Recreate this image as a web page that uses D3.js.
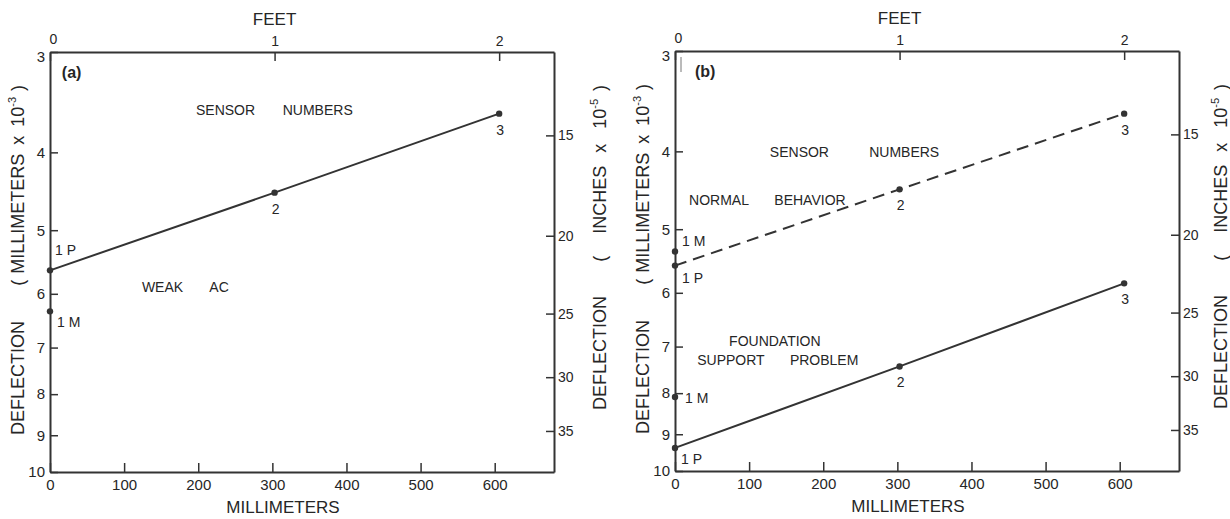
<!DOCTYPE html>
<html><head><meta charset="utf-8">
<script src="https://cdn.jsdelivr.net/npm/d3@7"></script>
<style>
body{margin:0;background:#fff}
svg text{font-family:"Liberation Sans",Arial,sans-serif;fill:#262626}
</style></head><body><svg id="c" width="1230" height="519"></svg>
<script>
// ---- data ----
const mmTicks = [0, 100, 200, 300, 400, 500, 600];
const feetTicks = [0, 1, 2];
const deflTicks = [3, 4, 5, 6, 7, 8, 9, 10];          // mm x 10^-3
const inchTicks = [15, 20, 25, 30, 35];                // in x 10^-5
const sensorMm = [0, 303, 606];                        // sensor 1, 2, 3 (mm)
const sensorNames = ["1 P", "2", "3"];
// panel (a) weak AC
const weakP = [5.61, 4.49, 3.58];
const weakM = 6.31;
// panel (b) normal behavior (dashed) and foundation support problem (solid)
const normalP = [5.55, 4.46, 3.59];
const normalM = 5.33;
const problemP = [9.36, 7.41, 5.84];
const problemM = 8.09;
// annotations (word, mm, deflection)
const notesA = [["SENSOR",197,3.59],["NUMBERS",314,3.59],["WEAK",124,5.97],["AC",215,5.97]];
const notesB = [["SENSOR",128,4.07],["NUMBERS",262,4.07],["NORMAL",19,4.66],["BEHAVIOR",134,4.66],
                ["FOUNDATION",73,6.98],["SUPPORT",30,7.37],["PROBLEM",155,7.37]];

const mmMax = 680, mmPerFoot = 303, W = 504, H = 420, ink = "#333";
const svg = d3.select("#c");

function drawPanel(p){
  const g = svg.append("g").attr("transform", `translate(${p.left},${p.top})`);
  const x = d3.scaleLinear().domain([0, mmMax]).range([0, W]);
  const xf = d3.scaleLinear().domain([0, mmMax / mmPerFoot]).range([0, W]);
  const y = d3.scaleLog().domain([3, 10]).range([0, H]);
  const yi = d3.scaleLog().domain([3 / 0.254, 10 / 0.254]).range([0, H]);

  const style = (sel, fs) => {
    sel.select(".domain").attr("stroke", ink).attr("stroke-width", 2);
    sel.selectAll(".tick line").attr("stroke", ink).attr("stroke-width", 1.5);
    sel.selectAll(".tick text").style("font-size", fs + "px").attr("fill", "#262626");
  };
  g.append("g").attr("transform", `translate(0,${H})`)
    .call(d3.axisBottom(x).tickValues(mmTicks).tickSize(-9).tickSizeOuter(0).tickPadding(7))
    .call(s => style(s, 15));
  g.append("g")
    .call(d3.axisTop(xf).tickValues(feetTicks).tickFormat(d3.format("d")).tickSize(-9).tickSizeOuter(0).tickPadding(6))
    .call(s => style(s, 14))
    .call(s => s.selectAll(".tick text").filter(d => d === 0).attr("dx", 3).attr("dy", -2));
  g.append("g")
    .call(d3.axisLeft(y).tickValues(deflTicks).tickFormat(d3.format("d")).tickSize(-8).tickSizeOuter(0).tickPadding(5))
    .call(s => style(s, 15))
    .call(s => s.selectAll(".tick text").filter(d => d === 3).attr("dy", "0.6em"));
  g.append("g").attr("transform", `translate(${W},0)`)
    .call(d3.axisRight(yi).tickValues(inchTicks).tickFormat(d3.format("d")).tickSize(-8).tickSizeOuter(0).tickPadding(4))
    .call(s => style(s, 14));

  // axis titles
  g.append("text").attr("x", xf(1)).attr("y", -27).attr("text-anchor", "middle")
    .style("font-size", "17px").text("FEET");
  g.append("text").attr("x", 233).attr("y", H + 41).attr("text-anchor", "middle")
    .style("font-size", "17px").text("MILLIMETERS");
  const lt = g.append("g").attr("transform", "translate(-26,0) rotate(-90)");
  lt.append("text").attr("x", -383).attr("y", 0).attr("text-anchor", "start")
    .style("font-size", "18px").text("DEFLECTION");
  const lt2 = lt.append("text").attr("x", -33).attr("y", 0).attr("text-anchor", "end").style("font-size", "18px");
  lt2.append("tspan").text("(");
  lt2.append("tspan").attr("dx", 6).text("MILLIMETERS");
  lt2.append("tspan").attr("dx", 9).text("x");
  lt2.append("tspan").attr("dx", 9).text("10");
  lt2.append("tspan").attr("dy", -8).style("font-size", "11px").text("-3");
  lt2.append("tspan").attr("dy", 8).attr("dx", 6).text(")");
  const rt = g.append("g").attr("transform", `translate(${W + p.rtOff},0) rotate(-90)`);
  rt.append("text").attr("x", -358).attr("y", 0).attr("text-anchor", "start")
    .style("font-size", "18px").text("DEFLECTION");
  const rt2 = rt.append("text").attr("x", -33).attr("y", 0).attr("text-anchor", "end").style("font-size", "18px");
  rt2.append("tspan").text("(");
  rt2.append("tspan").attr("dx", 22).text("INCHES");
  rt2.append("tspan").attr("dx", 13).text("x");
  rt2.append("tspan").attr("dx", 15).text("10");
  rt2.append("tspan").attr("dy", -8).style("font-size", "11px").text("-5");
  rt2.append("tspan").attr("dy", 8).attr("dx", 8).text(")");

  g.append("text").attr("x", x(p.tagMm)).attr("y", y(3.23)).style("font-size", "16px")
    .style("font-weight", "bold").text(p.tag);
  if (p.mark) g.append("line").attr("x1", 6).attr("x2", 6).attr("y1", 6).attr("y2", 21)
    .attr("stroke", "#777").attr("stroke-width", 1);

  p.notes.forEach(([t, m, v]) => g.append("text").attr("x", x(m)).attr("y", y(v))
    .style("font-size", "14px").text(t));

  const line = d3.line().x(d => x(d[0])).y(d => y(d[1]));
  p.series.forEach(s => {
    const pts = sensorMm.map((m, i) => [m, s.vals[i]]);
    g.append("path").attr("d", line(pts)).attr("fill", "none").attr("stroke", ink)
      .attr("stroke-width", 2).attr("stroke-dasharray", s.dash || null);
    const all = pts.concat([[0, s.m]]);
    g.selectAll(null).data(all).join("circle").attr("cx", d => x(d[0])).attr("cy", d => y(d[1]))
      .attr("r", 3.2).attr("fill", ink);
    pts.forEach((d, i) => {
      const t = g.append("text").style("font-size", "14px").text(sensorNames[i]);
      if (i === 0) t.attr("x", x(d[0]) + s.pOff[0]).attr("y", y(d[1]) + s.pOff[1]);
      else t.attr("x", x(d[0]) + 1).attr("y", y(d[1]) + 21).attr("text-anchor", "middle");
    });
    g.append("text").style("font-size", "14px").text("1 M")
      .attr("x", x(0) + s.mOff[0]).attr("y", y(s.m) + s.mOff[1]);
  });
}

drawPanel({left: 50, top: 52, tag: "(a)", tagMm: 16, notes: notesA, mark: false, rtOff: 52,
  series: [{vals: weakP, m: weakM, pOff: [5, -15], mOff: [7, 16]}]});
drawPanel({left: 675, top: 51, tag: "(b)", tagMm: 27, notes: notesB, mark: true, rtOff: 48,
  series: [{vals: normalP, m: normalM, dash: "12,7", pOff: [7, 17], mOff: [7, -5]},
           {vals: problemP, m: problemM, pOff: [6, 16], mOff: [10, 6]}]});
</script></body></html>
